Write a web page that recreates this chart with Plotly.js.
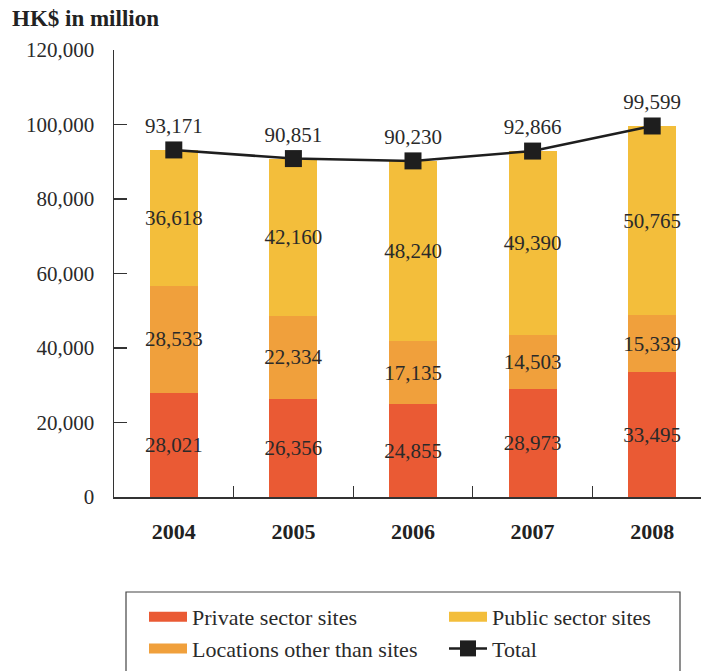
<!DOCTYPE html>
<html>
<head>
<meta charset="utf-8">
<script src="https://cdn.plot.ly/plotly-3.0.1.min.js"></script>
<style>html,body{margin:0;padding:0;overflow:hidden;background:#fff}</style>
</head>
<body>
<div id="chart" style="width:712px;height:671px"></div>
<script>
var years = ['2004', '2005', '2006', '2007', '2008'];
var privateSites = [28021, 26356, 24855, 28973, 33495];
var otherLocations = [28533, 22334, 17135, 14503, 15339];
var publicSites = [36618, 42160, 48240, 49390, 50765];
var totals = [93171, 90851, 90230, 92866, 99599];

var cPrivate = '#EA5A34';
var cOther = '#F0A03C';
var cPublic = '#F3BE3B';
var FONT = 'Liberation Serif, Times New Roman, serif';
var txtColor = '#2a2a2a';

var W = 712, H = 671, L = 114, T = 50, B = 174;
var PW = W - L, PH = H - T - B;
function px2x(px) { return (px - L) / PW; }
function px2y(py) { return (H - B - py) / PH; }

function fmt(v) { return v.toLocaleString('en-US'); }

function barTrace(name, vals, color) {
  return {
    type: 'bar', name: name, x: years, y: vals,
    marker: {color: color, line: {width: 0}},
    width: 0.4,
    text: vals.map(fmt), textposition: 'inside', insidetextanchor: 'middle',
    textangle: 0, constraintext: 'none', cliponaxis: false,
    textfont: {family: FONT, size: 21, color: txtColor},
    insidetextfont: {family: FONT, size: 21, color: txtColor},
    showlegend: false, hoverinfo: 'skip'
  };
}

function legendTrace(name, color, rank) {
  return {
    type: 'scatter', mode: 'lines', name: name, x: [null], y: [null],
    line: {color: color, width: 13}, legendrank: rank, hoverinfo: 'skip'
  };
}

var data = [
  barTrace('Private sector sites', privateSites, cPrivate),
  barTrace('Locations other than sites', otherLocations, cOther),
  barTrace('Public sector sites', publicSites, cPublic),
  {
    type: 'scatter', mode: 'lines+markers+text', name: 'Total',
    x: years, y: totals,
    line: {color: '#1e1e1e', width: 2.5},
    marker: {symbol: 'square', size: 17, color: '#1e1e1e'},
    text: totals.map(fmt), textposition: 'top center',
    textfont: {family: FONT, size: 21, color: txtColor},
    cliponaxis: false, legendrank: 4, hoverinfo: 'skip'
  },
  legendTrace('Private sector sites', cPrivate, 1),
  legendTrace('Public sector sites', cPublic, 2),
  legendTrace('Locations other than sites', cOther, 3)
];

var layout = {
  width: W, height: H,
  margin: {l: L, r: 0, t: T, b: B, autoexpand: false},
  paper_bgcolor: '#fff', plot_bgcolor: '#fff',
  barmode: 'stack',
  font: {family: FONT, size: 21, color: txtColor},
  title: {text: '<b>HK$ in million</b>', x: 12 / W, xanchor: 'left', xref: 'container',
          y: 1 - 18 / H, yanchor: 'middle', yref: 'container',
          font: {family: FONT, size: 23, color: '#222'}},
  xaxis: {
    type: 'category', range: [-0.5, 4.5],
    showline: true, linecolor: '#333', linewidth: 1.5,
    ticks: 'inside', tickson: 'boundaries', ticklen: 11, tickwidth: 1.2, tickcolor: '#333',
    showgrid: false, zeroline: false,
    tickfont: {family: FONT, size: 22, color: '#222', weight: 'bold'},
    ticklabelstandoff: 14
  },
  yaxis: {
    range: [0, 120000], dtick: 20000, tick0: 0, tickformat: ',d',
    showline: true, linecolor: '#333', linewidth: 1.5,
    ticks: 'inside', ticklen: 13, tickwidth: 1.5, tickcolor: '#333',
    showgrid: false, zeroline: false,
    tickfont: {family: FONT, size: 21, color: txtColor},
    ticklabelstandoff: 14
  },
  shapes: [{
    type: 'rect', xref: 'paper', yref: 'paper',
    x0: px2x(126), x1: px2x(680), y0: px2y(592), y1: px2y(700),
    line: {color: '#444', width: 1.2}, fillcolor: 'rgba(0,0,0,0)', layer: 'above'
  }],
  showlegend: true,
  legend: {
    orientation: 'h', x: px2x(144), xanchor: 'left', y: px2y(596), yanchor: 'top',
    borderwidth: 0, bgcolor: 'rgba(0,0,0,0)',
    font: {family: FONT, size: 22, color: txtColor},
    entrywidth: 247, entrywidthmode: 'pixels', itemwidth: 38,
    tracegroupgap: 0, traceorder: 'normal'
  }
};

Plotly.newPlot('chart', data, layout, {displayModeBar: false, staticPlot: true});
</script>
</body>
</html>
